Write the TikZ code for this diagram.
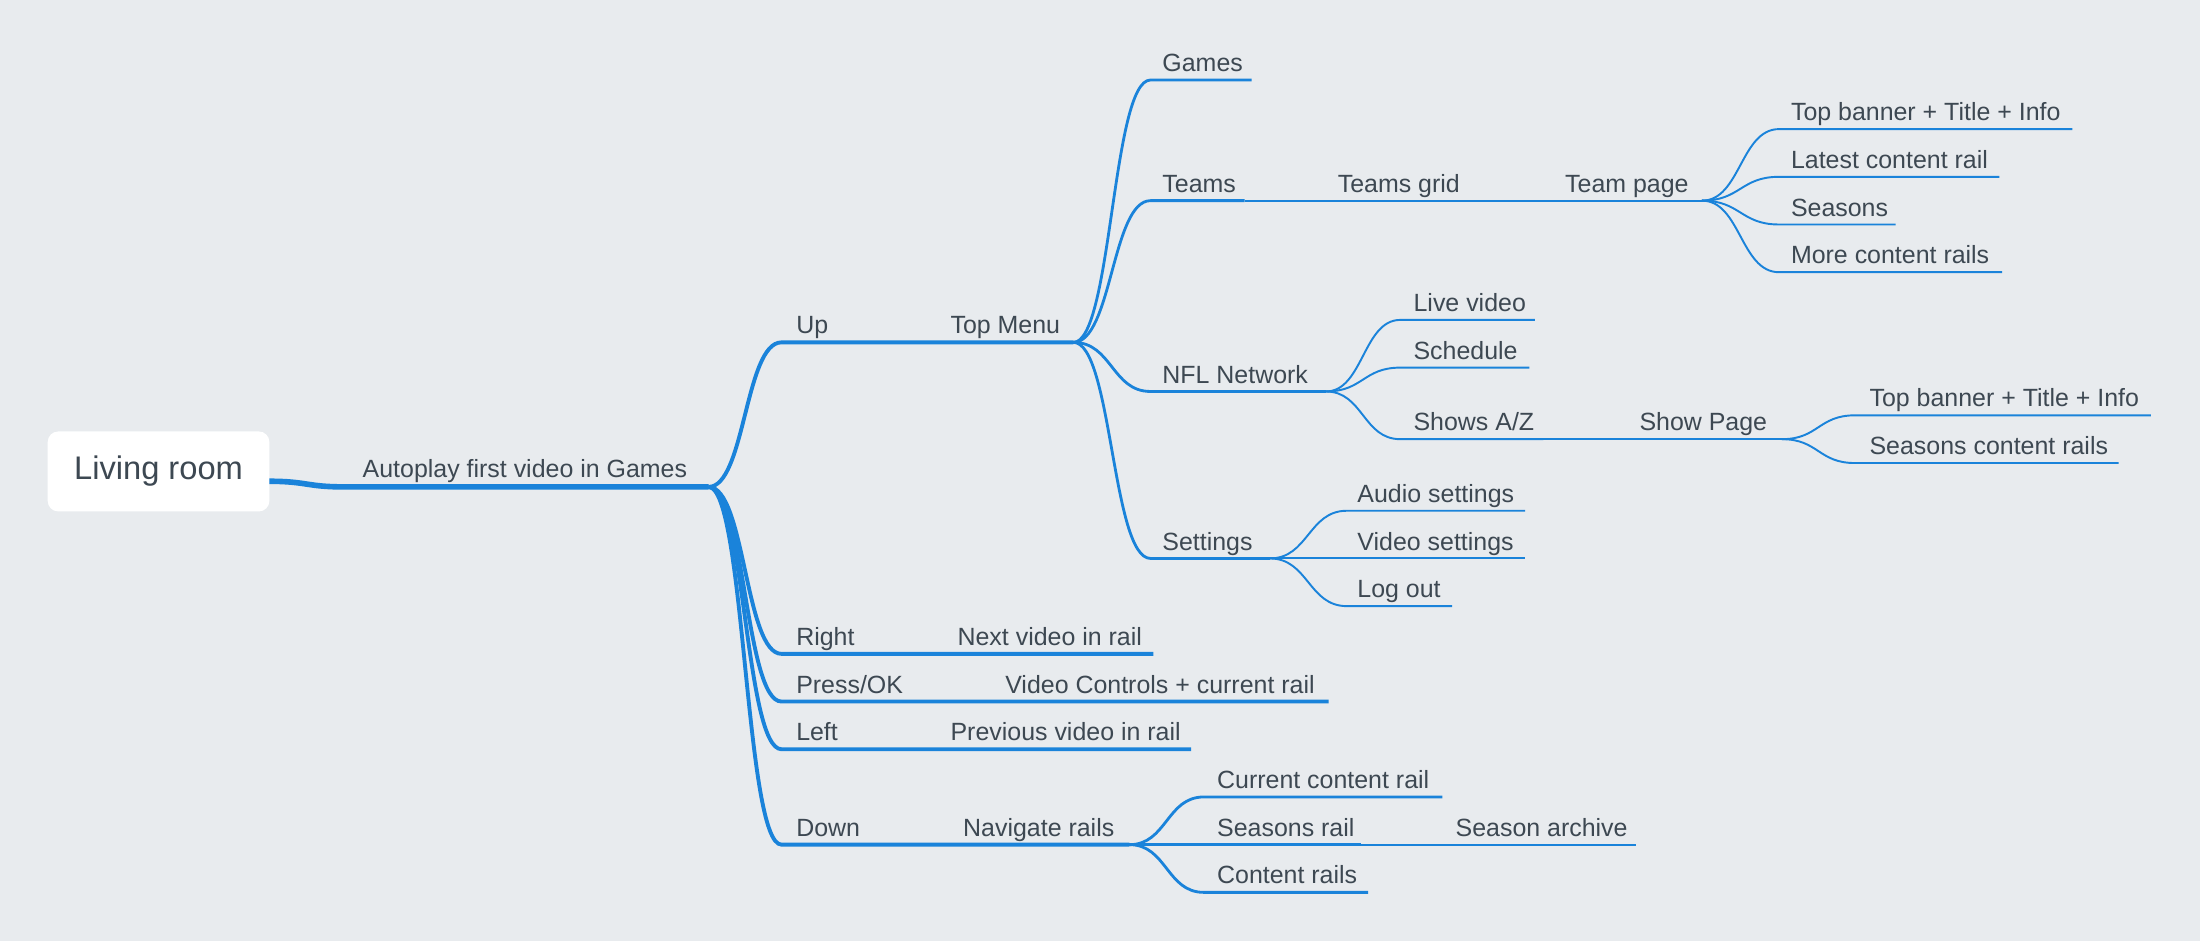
\documentclass[tikz,border=0pt]{standalone}
\usepackage{fontspec}
\setmainfont{Liberation Sans}
\usetikzlibrary{calc}
\definecolor{bgc}{HTML}{E8EBEE}
\definecolor{linec}{HTML}{1A83DA}
\definecolor{txtc}{HTML}{3D4852}
\tikzset{
  lbl/.style={anchor=base west, inner sep=0pt, text=txtc, font=\fontsize{7.1}{8}\selectfont},
  w1/.style={draw=linec, line width=1.6pt},
  w2/.style={draw=linec, line width=1.1pt},
  w3/.style={draw=linec, line width=0.8pt},
  w4/.style={draw=linec, line width=0.55pt}
}
% S-shaped branch from (#2) to (#3), then straight to (#4)
\newcommand\branch[4]{%
  \path ($(#2)!0.5!(#3)$) coordinate (bm);
  \draw[#1] (#2) .. controls (bm |- #2) and (bm |- #3) .. (#3) -- (#4);}
\begin{document}
\begin{tikzpicture}[x=0.014031cm, y=-0.014031cm]
\fill[bgc] (0,0) rectangle (1568,671);
\useasboundingbox (0,0) rectangle (1568,671);

% root
\node[fill=white, rounded corners=3pt, minimum width=158*0.014031cm, minimum height=57*0.014031cm, text=txtc, font=\fontsize{9.3}{11}\selectfont] (room) at (113,336) {Living room};
\coordinate (rootR) at (192,343);
\node[lbl] (auto) at (258,340) {Autoplay first video in Games};
\coordinate (autoL) at (245,347);
\coordinate (autoR) at (505,347);
\branch{w1}{rootR}{autoL}{autoR}

% level 1
\foreach \nm/\txt/\y in {up/Up/244, right/Right/466, press/Press\slash OK/500, left/Left/534, down/Down/602}{
  \node[lbl] (\nm) at (567,\y-6) {\txt};
  \coordinate (\nm L) at (557,\y);
}
\node[lbl] (topmenu) at (677,238) {Top Menu};
\node[lbl] (next) at (682,460) {Next video in rail};
\node[lbl] (vctrl) at (716,494) {Video Controls + current rail};
\node[lbl] (prev) at (677,528) {Previous video in rail};
\node[lbl] (nav) at (686,596) {Navigate rails};
\coordinate (topR) at (765,244);
\coordinate (nextR) at (822,466);
\coordinate (vctrlR) at (947,500);
\coordinate (prevR) at (849,534);
\coordinate (navR) at (805,602);
\branch{w2}{autoR}{upL}{topR}
\branch{w2}{autoR}{rightL}{nextR}
\branch{w2}{autoR}{pressL}{vctrlR}
\branch{w2}{autoR}{leftL}{prevR}
\branch{w2}{autoR}{downL}{navR}

% top menu
\node[lbl] (games) at (828,51) {Games};
\node[lbl] (teams) at (828,137) {Teams};
\node[lbl] (nfl) at (828,273) {NFL Network};
\node[lbl] (settings) at (828,392) {Settings};
\coordinate (gamesL) at (820,57);
\coordinate (gamesR) at (892,57);
\coordinate (teamsL) at (820,143);
\coordinate (teamsR) at (887,143);
\coordinate (nflL) at (820,279);
\coordinate (nflR) at (945,279);
\coordinate (setL) at (820,398);
\coordinate (setR) at (905,398);
\branch{w3}{topR}{gamesL}{gamesR}
\branch{w3}{topR}{teamsL}{teamsR}
\branch{w3}{topR}{nflL}{nflR}
\branch{w3}{topR}{setL}{setR}

% teams
\node[lbl] (grid) at (953,137) {Teams grid};
\node[lbl] (tpage) at (1115,137) {Team page};
\coordinate (gridR) at (1048,143);
\coordinate (tpageR) at (1213,143);
\draw[w4] (teamsR) -- (gridR) -- (tpageR);
\foreach \nm/\txt/\y/\e in {tb1/Top banner + Title + Info/92/1477, lcr/Latest content rail/126/1425,
  sea/Seasons/160/1351, mcr/More content rails/194/1427}{
  \node[lbl] (\nm) at (1276,\y-6) {\txt};
  \coordinate (\nm L) at (1268,\y);
  \coordinate (\nm R) at (\e,\y);
  \branch{w4}{tpageR}{\nm L}{\nm R}
}

% nfl network
\foreach \nm/\txt/\y/\e in {live/Live video/228/1094, sched/Schedule/262/1090, shows/Shows A\slash Z/313/1100}{
  \node[lbl] (\nm) at (1007,\y-6) {\txt};
  \coordinate (\nm L) at (998,\y);
  \coordinate (\nm R) at (\e,\y);
  \branch{w4}{nflR}{\nm L}{\nm R}
}
\node[lbl] (spage) at (1168,307) {Show Page};
\coordinate (spageR) at (1270,313);
\draw[w4] (showsR) -- (spageR);
\foreach \nm/\txt/\y/\e in {tb2/Top banner + Title + Info/296/1533, scr/Seasons content rails/330/1510}{
  \node[lbl] (\nm) at (1332,\y-6) {\txt};
  \coordinate (\nm L) at (1322,\y);
  \coordinate (\nm R) at (\e,\y);
  \branch{w4}{spageR}{\nm L}{\nm R}
}

% settings
\foreach \nm/\txt/\y/\e in {audio/Audio settings/364/1087, video/Video settings/398/1087, logout/Log out/432/1035}{
  \node[lbl] (\nm) at (967,\y-6) {\txt};
  \coordinate (\nm L) at (960,\y);
  \coordinate (\nm R) at (\e,\y);
  \branch{w4}{setR}{\nm L}{\nm R}
}

% down
\foreach \nm/\txt/\y/\e in {ccr/Current content rail/568/1028, srail/Seasons rail/602/970, crails/Content rails/636/975}{
  \node[lbl] (\nm) at (867,\y-6) {\txt};
  \coordinate (\nm L) at (858,\y);
  \coordinate (\nm R) at (\e,\y);
  \branch{w3}{navR}{\nm L}{\nm R}
}
\node[lbl] (archive) at (1037,596) {Season archive};
\coordinate (archR) at (1166,602);
\draw[w4] (srailR) -- (archR);
\end{tikzpicture}
\end{document}
